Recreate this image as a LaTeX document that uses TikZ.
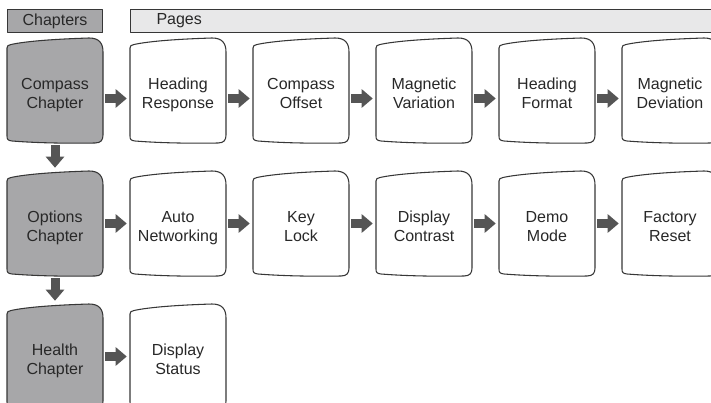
\documentclass[tikz,border=0pt]{standalone}
\usepackage{fontspec}
\setmainfont{Liberation Sans}
\usetikzlibrary{arrows.meta}
\definecolor{chapgray}{RGB}{167,167,169}
\definecolor{pagegray}{RGB}{232,232,233}
\definecolor{edgegray}{RGB}{55,55,55}
\definecolor{arrowgray}{RGB}{85,85,85}
\definecolor{textgray}{RGB}{40,40,40}
\begin{document}
\begin{tikzpicture}[x=0.75pt, y=-0.75pt, line cap=round, line join=round]
	\tikzset{
		screen_line/.style={draw=edgegray, line width=0.8pt},
		screen/.pic={% device screen outline, 96 x 105
			\draw[screen_line, fill=#1] (0,10) -- (0,98)
				.. controls (0,101.5) and (1,102.5) .. (5,103)
				.. controls (30,105) and (60,105.5) .. (88,105)
				.. controls (94,105) and (96,102) .. (96,97) -- (96,14)
				.. controls (96,5) and (92,0) .. (82,0)
				.. controls (50,1) and (20,3) .. (4,6.5)
				.. controls (1,7) and (0,8) .. (0,10) -- cycle;
		},
		pics/screen/.default=white,
		box_text/.style={minimum width=72pt, minimum height=78.75pt, inner sep=0pt, align=center,
			text=textgray, font=\fontsize{12}{14.5}\selectfont},
		header/.style={draw=edgegray, line width=0.8pt, minimum height=17.25pt, inner ysep=0pt,
			text=textgray, font=\fontsize{12}{14.5}\selectfont, anchor=north west},
		flow_arrow/.style={draw=arrowgray, line width=6.75pt, line cap=butt,
			-{Triangle[length=8.25pt, width=13.5pt]}, shorten <=1.5pt, shorten >=2.25pt}
	}
	\def\tstrut{\rule{0pt}{16.6pt}} % keeps the first baseline the same in every box
	\def\bstrut{\rule[-4.35pt]{0pt}{4.35pt}}
	\useasboundingbox (0,0) rectangle (711,403);
	\clip (0,0) rectangle (711,403);
	% headers
	\node[header, fill=chapgray, minimum width=71.25pt] (chapters) at (7,9) {Chapters};
	\node[header, fill=pagegray, text width=450pt, inner xsep=19.5pt, align=left] (pages) at (130,9) {Pages};
	% chapters
	\foreach \n/\y/\txt in {c1/38/{Compass\\Chapter}, c2/171/{Options\\Chapter}, c3/304/{Health\\Chapter}} {
		\pic at (7,\y) {screen=chapgray};
		\node[box_text] (\n) at (55,\y+52.5) {\tstrut\txt\bstrut};
	}
	% pages
	\foreach \i/\txt in {1/{Heading\\Response}, 2/{Compass\\Offset}, 3/{Magnetic\\Variation},
			4/{Heading\\Format}, 5/{Magnetic\\Deviation}} {
		\pic at ({130+123*(\i-1)},38) {screen};
		\node[box_text] (p1\i) at ({178+123*(\i-1)},90.5) {\tstrut\txt\bstrut};
	}
	\foreach \i/\txt in {1/{Auto\\Networking}, 2/{Key\\Lock}, 3/{Display\\Contrast},
			4/{Demo\\Mode}, 5/{Factory\\Reset}} {
		\pic at ({130+123*(\i-1)},171) {screen};
		\node[box_text] (p2\i) at ({178+123*(\i-1)},223.5) {\tstrut\txt\bstrut};
	}
	\pic at (130,304) {screen};
	\node[box_text] (p31) at (178,356.5) {\tstrut Display\\Status\bstrut};
	% arrows
	\draw[flow_arrow] ([yshift=-6pt]c1.east) -- ([yshift=-6pt]p11.west);
	\draw[flow_arrow] (c2.east) -- (p21.west);
	\draw[flow_arrow] (c3.east) -- (p31.west);
	\foreach \i/\j in {1/2, 2/3, 3/4, 4/5} {
		\draw[flow_arrow] ([yshift=-6pt]p1\i.east) -- ([yshift=-6pt]p1\j.west);
		\draw[flow_arrow] (p2\i.east) -- (p2\j.west);
	}
	\draw[flow_arrow] (c1.south) -- (c2.north);
	\draw[flow_arrow] (c2.south) -- (c3.north);
\end{tikzpicture}
\end{document}
